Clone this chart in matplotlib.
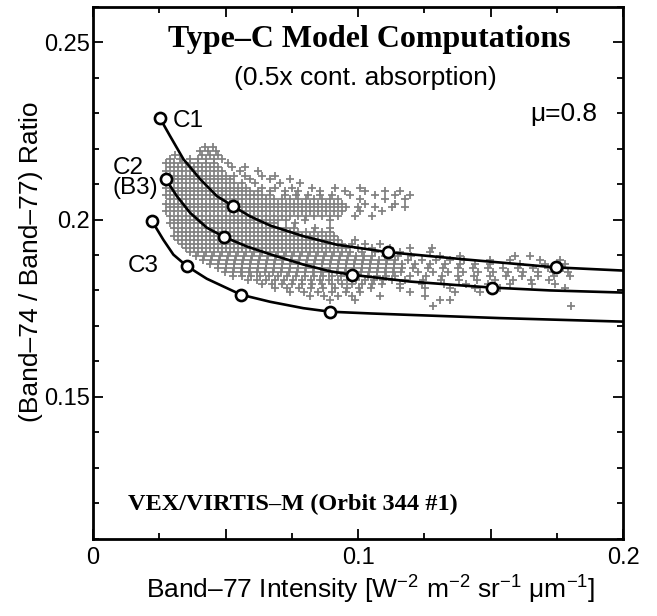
import matplotlib
matplotlib.use("Agg")
import matplotlib.pyplot as plt
from matplotlib.ticker import MultipleLocator, FixedLocator, FixedFormatter

plt.rcParams['font.family'] = ['Liberation Sans', 'DejaVu Sans']
plt.rcParams['mathtext.fontset'] = 'custom'
plt.rcParams['mathtext.rm'] = 'Liberation Sans'
plt.rcParams['mathtext.it'] = 'Liberation Sans:italic'
plt.rcParams['mathtext.bf'] = 'Liberation Sans:bold'

# ---- model curves (x = Band-77 intensity, y = ratio) ----
c1_x = [0.0253, 0.0290, 0.0341, 0.0405, 0.0467, 0.0527, 0.0592, 0.0668, 0.0793,
        0.0919, 0.1111, 0.1409, 0.1745, 0.2000]
c1_y = [0.2285, 0.2236, 0.2170, 0.2113, 0.2066, 0.2038, 0.2009, 0.1983, 0.1953,
        0.1929, 0.1908, 0.1887, 0.1865, 0.1856]
c1_marks = [0, 5, 10, 12]

c2_x = [0.0275, 0.0316, 0.0366, 0.0429, 0.0494, 0.0580, 0.0668, 0.0793, 0.0894,
        0.0978, 0.1196, 0.1409, 0.1506, 0.1724, 0.2000]
c2_y = [0.2113, 0.2066, 0.2019, 0.1977, 0.1951, 0.1924, 0.1902, 0.1873, 0.1854,
        0.1844, 0.1825, 0.1813, 0.1808, 0.1800, 0.1794]
c2_marks = [0, 4, 9, 12]

c3_x = [0.0223, 0.0265, 0.0303, 0.0353, 0.0429, 0.0558, 0.0668, 0.0793, 0.0894,
        0.1050, 0.1196, 0.1535, 0.2000]
c3_y = [0.1995, 0.1943, 0.1901, 0.1869, 0.1833, 0.1788, 0.1768, 0.1750, 0.1740,
        0.1735, 0.1731, 0.1722, 0.1712]
c3_marks = [0, 3, 5, 8]

curve_labels = ["C1", "C2", "(B3)", "C3"]
curve_label_x = [0.0302, 0.0075, 0.0075, 0.0132]
curve_label_y = [0.2260, 0.2127, 0.2071, 0.1853]

# ---- VIRTIS-M observations (rows: y in 1e-4, x in 1e-4) ----
cloud_rows = [
    (2204, [422, 453]),
    (2192, [404, 434, 464]),
    (2181, [309, 411, 441, 471]),
    (2170, [290, 328, 366, 396, 426, 456, 487]),
    (2158, [275, 305, 336, 366, 396, 426, 456, 509]),
    (2147, [290, 321, 351, 381, 411, 441, 471, 524, 573]),
    (2136, [275, 305, 336, 366, 396, 426, 456, 487, 554, 622]),
    (2124, [290, 321, 351, 381, 411, 441, 471, 502, 532, 573, 637, 686]),
    (2113, [275, 305, 336, 366, 396, 426, 456, 487, 517, 592, 668, 743]),
    (2102, [290, 321, 351, 381, 411, 441, 471, 502, 532, 562, 611, 705, 781]),
    (2090, [275, 305, 336, 366, 396, 426, 456, 487, 517, 547, 577, 637, 686, 750,
            826, 913, 1007]),
    (2079, [290, 321, 351, 381, 411, 441, 471, 502, 532, 562, 592, 622, 668, 724,
            773, 856, 950, 1026, 1101, 1158]),
    (2068, [275, 305, 336, 366, 396, 426, 456, 487, 517, 547, 577, 607, 637, 668,
            724, 766, 811, 856, 901, 969, 1064, 1139, 1196]),
    (2057, [290, 321, 351, 381, 411, 441, 471, 502, 532, 562, 592, 622, 652, 683,
            713, 743, 773, 803, 834, 864, 894, 924, 1007, 1101, 1177]),
    (2045, [275, 305, 336, 366, 396, 426, 456, 487, 517, 547, 577, 607, 637, 668,
            698, 728, 758, 788, 818, 849, 879, 909, 939, 1026, 1139]),
    (2034, [290, 321, 351, 381, 411, 441, 471, 502, 532, 562, 592, 622, 652, 683,
            713, 743, 773, 803, 834, 864, 894, 924, 954, 999, 1064, 1128, 1177]),
    (2023, [275, 305, 336, 366, 396, 426, 456, 487, 517, 547, 577, 607, 637, 668,
            698, 728, 758, 788, 818, 849, 879, 909, 939, 1007, 1090]),
    (2011, [290, 321, 351, 381, 411, 441, 471, 502, 532, 562, 592, 622, 652, 683,
            713, 743, 773, 803, 834, 864, 894, 924, 988, 1052]),
    (2000, [305, 336, 366, 396, 426, 456, 487, 517, 547, 577, 607, 637, 668, 698,
            728, 800, 894]),
    (1989, [290, 321, 351, 381, 411, 441, 471, 502, 532, 562, 592, 622, 652, 683,
            762]),
    (1977, [305, 336, 366, 396, 426, 456, 487, 517, 547, 577, 607, 637, 668, 698,
            728, 758, 837, 894]),
    (1966, [321, 351, 381, 411, 441, 471, 502, 532, 562, 592, 622, 652, 683, 713,
            743, 773, 803, 834, 864, 894]),
    (1954, [305, 336, 366, 396, 426, 456, 487, 517, 547, 577, 607, 637, 668, 698,
            728, 758, 788, 818, 849, 879, 909]),
    (1943, [321, 351, 381, 411, 441, 471, 502, 532, 562, 592, 622, 652, 683, 713,
            743, 773, 803, 834, 864, 894, 924, 988]),
    (1932, [336, 366, 396, 426, 456, 487, 517, 547, 577, 607, 637, 668, 698, 728,
            758, 788, 818, 849, 879, 909, 939, 977, 1026, 1082]),
    (1920, [351, 381, 411, 441, 471, 502, 532, 562, 592, 622, 652, 683, 713, 743,
            773, 803, 834, 864, 894, 924, 954, 999, 1052, 1120, 1196, 1278]),
    (1909, [366, 396, 426, 456, 487, 517, 547, 577, 607, 637, 668, 698, 728, 758,
            788, 818, 849, 879, 909, 939, 969, 1014, 1064, 1158, 1271]),
    (1898, [388, 418, 449, 479, 509, 539, 569, 599, 630, 660, 690, 720, 750, 780,
            811, 841, 871, 901, 931, 962, 992, 1022, 1052, 1101, 1150, 1199, 1309,
            1384, 1591, 1648]),
    (1887, [415, 445, 475, 505, 536, 566, 596, 626, 656, 686, 717, 747, 777, 807,
            837, 868, 898, 928, 958, 988, 1018, 1049, 1079, 1109, 1139, 1188, 1241,
            1294, 1346, 1399, 1497, 1573, 1686, 1761]),
    (1875, [441, 471, 502, 532, 562, 592, 622, 652, 683, 713, 743, 773, 803, 834,
            864, 894, 924, 954, 984, 1014, 1045, 1075, 1105, 1135, 1165, 1214, 1271,
            1328, 1384, 1441, 1497, 1610, 1705, 1780]),
    (1864, [471, 502, 532, 562, 592, 622, 652, 683, 713, 743, 773, 803, 834, 864,
            894, 924, 954, 984, 1014, 1045, 1075, 1105, 1135, 1165, 1207, 1264, 1320,
            1377, 1433, 1490, 1546, 1603, 1660, 1716, 1773]),
    (1853, [498, 528, 558, 588, 618, 649, 679, 709, 739, 769, 799, 830, 860, 890,
            920, 950, 980, 1011, 1041, 1071, 1101, 1131, 1162, 1226, 1282, 1339, 1395,
            1452, 1509, 1565, 1622, 1678, 1735, 1791]),
    (1841, [528, 562, 596, 630, 664, 698, 732, 766, 800, 834, 868, 901, 935, 969,
            1003, 1037, 1071, 1105, 1139, 1196, 1256, 1316, 1377, 1437, 1497, 1558,
            1618, 1678, 1739, 1799]),
    (1830, [585, 619, 653, 687, 721, 755, 789, 823, 856, 890, 924, 958, 992, 1026,
            1060, 1094, 1128, 1177, 1244, 1312, 1380, 1448, 1516, 1584, 1652, 1720]),
    (1819, [637, 675, 713, 750, 788, 826, 864, 901, 939, 977, 1014, 1052, 1090,
            1158, 1241, 1324, 1407, 1490, 1573, 1656, 1743]),
    (1808, [686, 731, 777, 822, 867, 912, 958, 1003, 1048, 1158, 1252, 1346, 1441,
            1535, 1780]),
    (1796, [743, 796, 849, 901, 954, 1007, 1196, 1365, 1460]),
    (1785, [818, 871, 924, 977, 1082, 1252]),
    (1774, [894, 988, 1309, 1346]),
    (1757, [1282, 1803]),
]

x_major = [0.0, 0.05, 0.1, 0.15, 0.2]
x_major_labels = ["0", "", "0.1", "", "0.2"]
y_major = [0.15, 0.2, 0.25]
y_major_labels = ["0.15", "0.2", "0.25"]

cloud_x = []
cloud_y = []
for yv, xs in cloud_rows:
    cloud_x += [v / 1e4 for v in xs]
    cloud_y += [yv / 1e4] * len(xs)

fig = plt.figure(figsize=(6.57, 6.16), dpi=100)
ax = fig.add_axes([0.1416, 0.1255, 0.8072, 0.8636])

ax.scatter(cloud_x, cloud_y, marker='+', s=30, c='#808080', linewidths=1.25,
           zorder=1)

for xs, ys, mk in [(c1_x, c1_y, c1_marks), (c2_x, c2_y, c2_marks),
                   (c3_x, c3_y, c3_marks)]:
    ax.plot(xs, ys, color='black', lw=1.9, marker='o', markevery=mk, ms=8,
            mfc='white', mec='black', mew=1.9, zorder=3, clip_on=True)

for t, tx, ty in zip(curve_labels, curve_label_x, curve_label_y):
    ax.text(tx, ty, t, fontsize=17.5, ha='left', va='baseline', zorder=4)

ax.set_xlim(0, 0.2)
ax.set_ylim(0.11, 0.26)

ax.xaxis.set_major_locator(FixedLocator(x_major))
ax.xaxis.set_major_formatter(FixedFormatter(x_major_labels))
ax.xaxis.set_minor_locator(MultipleLocator(0.025))
ax.yaxis.set_major_locator(FixedLocator(y_major))
ax.yaxis.set_major_formatter(FixedFormatter(y_major_labels))
ax.yaxis.set_minor_locator(MultipleLocator(0.01))

ax.tick_params(which='both', direction='in', top=True, right=True, width=1.3,
               labelsize=17)
ax.tick_params(which='major', length=7)
ax.tick_params(which='minor', length=4)
ax.tick_params(axis='x', pad=6)
ax.tick_params(axis='y', pad=2)
for sp in ax.spines.values():
    sp.set_linewidth(2.0)

ax.set_xlabel("Band\u201377 Intensity [W$^{-2}$ m$^{-2}$ sr$^{-1}$ \u03bcm$^{-1}$]",
              fontsize=19)
ax.xaxis.set_label_coords(0.524, -0.066)
ax.set_ylabel("(Band\u201374 / Band\u201377) Ratio", fontsize=19)
ax.yaxis.set_label_coords(-0.094, 0.521)

ax.text(0.5205, 0.924, "Type\u2013C Model Computations", transform=ax.transAxes,
        ha='center', va='baseline', fontsize=23, fontweight='bold',
        family=['Liberation Serif', 'DejaVu Serif'])
ax.text(0.513, 0.853, "(0.5x cont. absorption)", transform=ax.transAxes,
        ha='center', va='baseline', fontsize=19)
ax.text(0.950, 0.785, "\u03bc=0.8", transform=ax.transAxes,
        ha='right', va='baseline', fontsize=19)
ax.text(0.066, 0.054, "VEX/VIRTIS\u2013M (Orbit 344 #1)", transform=ax.transAxes,
        ha='left', va='baseline', fontsize=17.5, fontweight='bold',
        family=['Liberation Serif', 'DejaVu Serif'])

fig.savefig("out.png", dpi=100)
